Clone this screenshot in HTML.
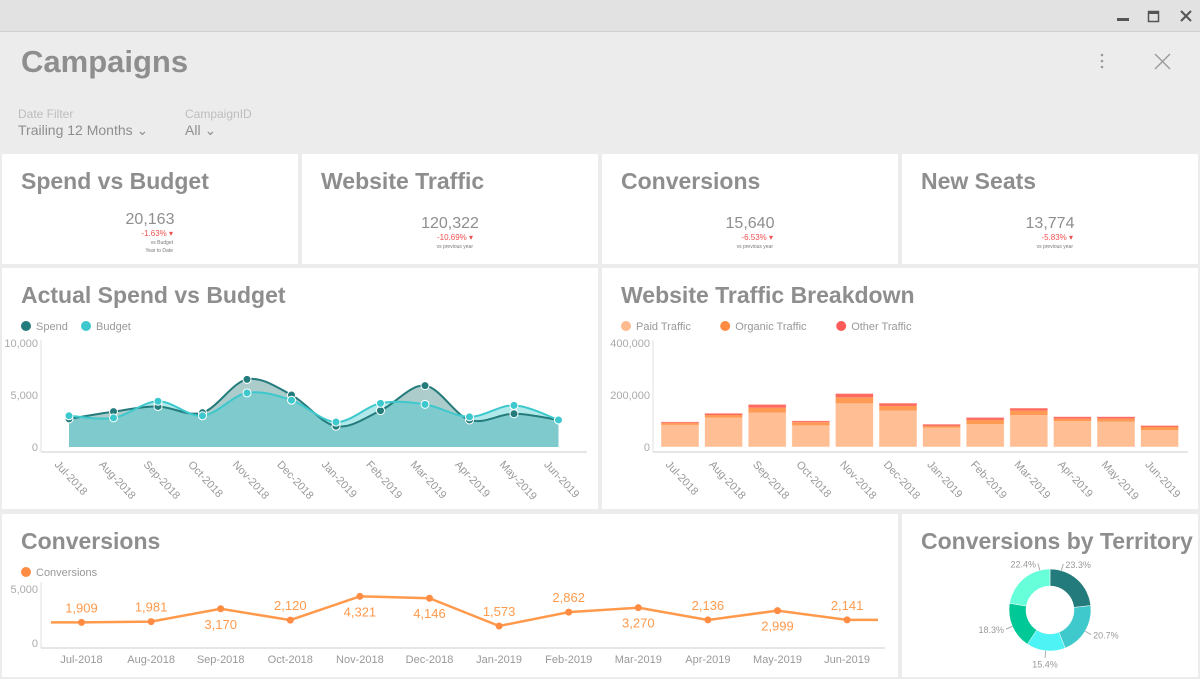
<!DOCTYPE html>
<html><head><meta charset="utf-8"><style>
body{margin:0;width:1200px;height:679px;overflow:hidden;background:#ececec;font-family:"Liberation Sans",sans-serif}
svg{position:absolute;left:0;top:0}
</style></head><body>
<svg id="s" width="1200" height="679" xmlns="http://www.w3.org/2000/svg" font-family="Liberation Sans, sans-serif">
<rect x="0" y="0" width="1200" height="31" fill="#e2e2e2"/>
<line x1="0" y1="31.5" x2="1200" y2="31.5" stroke="#cfcfcf"/>
<rect x="1117" y="18" width="12" height="3" fill="#555"/>
<g><rect x="1148.5" y="11.5" width="10" height="10" fill="none" stroke="#555" stroke-width="1.5"/><rect x="1148" y="11" width="11" height="3" fill="#555"/></g>
<g stroke="#555" stroke-width="2"><line x1="1181" y1="11" x2="1191" y2="21"/><line x1="1191" y1="11" x2="1181" y2="21"/></g>
<text x="21" y="72" font-size="31" font-weight="bold" fill="#8e8e8e">Campaigns</text>
<g fill="#999"><circle cx="1102" cy="55" r="1.3"/><circle cx="1102" cy="61" r="1.3"/><circle cx="1102" cy="67" r="1.3"/></g>
<g stroke="#999" stroke-width="1.3"><line x1="1155" y1="54" x2="1170" y2="69"/><line x1="1170" y1="54" x2="1155" y2="69"/></g>
<text x="18" y="118" font-size="12" fill="#bdbdbd">Date Filter</text>
<text x="18" y="135" font-size="14" fill="#8e8e8e">Trailing 12 Months ⌄</text>
<text x="185" y="118" font-size="12" fill="#bdbdbd">CampaignID</text>
<text x="185" y="135" font-size="14" fill="#8e8e8e">All ⌄</text>
<g id="cards"></g>
<g id="c1"></g><g id="c2"></g><g id="c3"></g><g id="c4"></g>
</svg>
<script>
const NS='http://www.w3.org/2000/svg';
function el(p,t,a,txt){const e=document.createElementNS(NS,t);for(const k in a)e.setAttribute(k,a[k]);if(txt!=null)e.textContent=txt;p.appendChild(e);return e;}
const S=document.getElementById('s');
const cardsG=document.getElementById('cards');
const cardBoxes=[[2,154,296,110,'Spend vs Budget','spend-vs-budget-card'],[302,154,296,110,'Website Traffic','website-traffic-card'],[602,154,296,110,'Conversions','conversions-kpi-card'],[902,154,296,110,'New Seats','new-seats-card'],
[2,268,596,241,'Actual Spend vs Budget','spend-chart-card'],[602,268,596,241,'Website Traffic Breakdown','traffic-chart-card'],[2,514,896,163,'Conversions','conversions-chart-card'],[902,514,296,163,'Conversions by Territory','territory-chart-card']];
cardBoxes.forEach(c=>{const g=el(cardsG,'g',{});


el(g,'rect',{x:c[0],y:c[1],width:c[2],height:c[3],fill:'#fff'});
const t=el(g,'text',{x:c[0]+19,y:c[1]+35,'font-size':23,'font-weight':'bold',fill:'#8e8e8e'},c[4]);

});
const kpis=[[150,224,'20,163','-1.63%','vs Budget','Year to Date'],[450,228,'120,322','-10.69%','vs previous year',''],[750,228,'15,640','-6.53%','vs previous year',''],[1050,228,'13,774','-5.83%','vs previous year','']];
kpis.forEach(k=>{const v=el(cardsG,'text',{x:k[0],y:k[1],'font-size':16,fill:'#8e8e8e','text-anchor':'middle'},k[2]);


const d=el(cardsG,'text',{x:k[0]+23,y:k[1]+12,'font-size':8,fill:'#f05050','text-anchor':'end'},k[3]+' ▾');


el(cardsG,'text',{x:k[0]+23,y:k[1]+20,'font-size':5,fill:'#777','text-anchor':'end'},k[4]);
if(k[5])el(cardsG,'text',{x:k[0]+23,y:k[1]+28,'font-size':5,fill:'#777','text-anchor':'end'},k[5]);});

const months=['Jul-2018','Aug-2018','Sep-2018','Oct-2018','Nov-2018','Dec-2018','Jan-2019','Feb-2019','Mar-2019','Apr-2019','May-2019','Jun-2019'];
const spend=[2700,3400,3900,3300,6500,5000,2000,3500,5900,2600,3200,2600];
const budget=[3000,2800,4400,3000,5200,4500,2400,4200,4100,2900,4000,2600];
const paid=[85000,113000,132000,83000,168000,140000,74000,88000,123000,100000,98000,65000];
const organic=[7000,10000,19000,12000,23000,18000,7000,16000,17000,9000,11000,12000];
const other=[5000,7000,13000,6000,15000,11000,7000,10000,10000,8000,8000,6000];
const conv=[1909,1981,3170,2120,4321,4146,1573,2862,3270,2136,2999,2141];
const terrPct=[23.3,20.7,15.4,18.3,22.4];
const terrCol=['#247b7b','#40c9cc','#4df3f5','#00c896','#66ffd9'];
const ticks1=[0,5000,10000], ticks2=[0,200000,400000], ticks3=[0,5000];
const fmt=v=>v.toLocaleString('en-US');

function smooth(pts){let d='M'+pts[0][0]+','+pts[0][1];for(let i=0;i<pts.length-1;i++){const p0=pts[i-1]||pts[i],p1=pts[i],p2=pts[i+1],p3=pts[i+2]||p2;
d+=` C${p1[0]+(p2[0]-p0[0])/6},${p1[1]+(p2[1]-p0[1])/6} ${p2[0]-(p3[0]-p1[0])/6},${p2[1]-(p3[1]-p1[1])/6} ${p2[0]},${p2[1]}`;}return d;}
function legend(g,x,y,items){items.forEach(it=>{const c=el(g,'circle',{cx:x+5,cy:y,r:5,fill:it[1]});


const t=el(g,'text',{x:x+15,y:y+4,'font-size':11,fill:'#999'},it[0]);


x+=15+it[0].length*5.6+17;});}

(function(){const g=document.getElementById('c1');
const X=i=>69+i*44.5, Y=v=>447-v*(104/10000);
legend(g,21,326,[['Spend','#247b7b'],['Budget','#3cc8cc']]);
ticks1.forEach(t=>{const e=el(g,'text',{x:38,y:Y(t)+4,'font-size':11,fill:'#aaa','text-anchor':'end'},fmt(t));});
el(g,'line',{x1:41,y1:340,x2:41,y2:452,stroke:'#e0e0e0'});
el(g,'line',{x1:41,y1:452,x2:587,y2:452,stroke:'#ddd','stroke-width':1.5});
const sp=spend.map((v,i)=>[X(i),Y(v)]), bp=budget.map((v,i)=>[X(i),Y(v)]);
const base=Y(0);
const a1=el(g,'path',{d:smooth(sp)+` L${X(11)},${base} L${X(0)},${base} Z`,fill:'rgba(36,122,122,0.38)'});

const a2=el(g,'path',{d:smooth(bp)+` L${X(11)},${base} L${X(0)},${base} Z`,fill:'rgba(60,200,204,0.4)'});

const l1=el(g,'path',{d:smooth(sp),fill:'none',stroke:'#247b7b','stroke-width':2});

const l2=el(g,'path',{d:smooth(bp),fill:'none',stroke:'#3cc8cc','stroke-width':2});

sp.forEach(p=>{const c=el(g,'circle',{cx:p[0],cy:p[1],r:4,fill:'#247b7b',stroke:'#fff','stroke-width':1});});
bp.forEach(p=>{const c=el(g,'circle',{cx:p[0],cy:p[1],r:4,fill:'#3cc8cc',stroke:'#fff','stroke-width':1});});
months.forEach((m,i)=>{const t=el(g,'text',{x:0,y:0,'font-size':11,fill:'#999',transform:`translate(${X(i)-15},${465}) rotate(47)`},m);});
})();

(function(){const g=document.getElementById('c2');
const X=i=>680+i*43.6, Y=v=>447-v*(52/200000);
legend(g,621,326,[['Paid Traffic','#ffbb8f'],['Organic Traffic','#ff8c42'],['Other Traffic','#ff5a5a']]);
ticks2.forEach(t=>{const e=el(g,'text',{x:650,y:Y(t)+4,'font-size':11,fill:'#aaa','text-anchor':'end'},fmt(t));});
el(g,'line',{x1:653,y1:340,x2:653,y2:452,stroke:'#e0e0e0'});
el(g,'line',{x1:653,y1:452,x2:1188,y2:452,stroke:'#ddd','stroke-width':1.5});
months.forEach((m,i)=>{let acc=0;[[paid,'#ffbe94','paid-bar'],[organic,'#ff9a55','organic-bar'],[other,'#ff6a60','other-bar']].forEach(s=>{const v=s[0][i];
const r=el(g,'rect',{x:X(i)-19,y:Y(acc+v),width:38,height:Y(acc)-Y(acc+v),fill:s[1]});
acc+=v;});
el(g,'rect',{x:X(i)-19,y:Y(acc),width:38,height:Y(0)-Y(acc),fill:'none',stroke:'#fff','stroke-width':0.8,opacity:0.6});
const t=el(g,'text',{x:0,y:0,'font-size':11,fill:'#999',transform:`translate(${X(i)-15},${465}) rotate(47)`},m);});
})();

(function(){const g=document.getElementById('c3');
const X=i=>81.5+i*69.6, Y=v=>643-v*(54/5000);
legend(g,21,572,[['Conversions','#ff8c42']]);
ticks3.forEach(t=>{const e=el(g,'text',{x:38,y:Y(t)+4,'font-size':11,fill:'#aaa','text-anchor':'end'},fmt(t));});
el(g,'line',{x1:41,y1:582,x2:41,y2:648,stroke:'#e0e0e0'});
el(g,'line',{x1:41,y1:648,x2:885,y2:648,stroke:'#ddd','stroke-width':1.5});
const pts=conv.map((v,i)=>[X(i),Y(v)]);
const d='M51,'+pts[0][1]+' '+pts.map(p=>'L'+p[0]+','+p[1]).join(' ')+' L878,'+pts[11][1];
const l=el(g,'path',{d:d,fill:'none',stroke:'#ff9a4d','stroke-width':2.5});

pts.forEach((p,i)=>{const c=el(g,'circle',{cx:p[0],cy:p[1],r:3.5,fill:'#ff8c42'});
const above=[0,1,3,6,7,9,11].includes(i);
const t=el(g,'text',{x:p[0],y:above?p[1]-10:p[1]+20,'font-size':13,fill:'#ff9a4d','text-anchor':'middle'},fmt(conv[i]));
const m=el(g,'text',{x:p[0],y:663,'font-size':11,fill:'#999','text-anchor':'middle'},months[i]);});
})();

(function(){const g=document.getElementById('c4');
const cx=1050,cy=610,R=41,r=24;const tot=terrPct.reduce((a,b)=>a+b,0);let a0=-Math.PI/2;
terrPct.forEach((v,i)=>{const a1=a0+v/tot*2*Math.PI;const lg=(a1-a0)>Math.PI?1:0;
const P=(rad,a)=>[cx+rad*Math.cos(a),cy+rad*Math.sin(a)];
const [x1,y1]=P(R,a0),[x2,y2]=P(R,a1),[x3,y3]=P(r,a1),[x4,y4]=P(r,a0);
const s=el(g,'path',{d:`M${x1},${y1} A${R},${R} 0 ${lg} 1 ${x2},${y2} L${x3},${y3} A${r},${r} 0 ${lg} 0 ${x4},${y4} Z`,fill:terrCol[i],stroke:'#fff','stroke-width':0.5});

const am=(a0+a1)/2+ (i==0?-0.45:i==4?0.45:0);const [lx1,ly1]=P(R,am),[lx2,ly2]=P(R+7,am);
el(g,'line',{x1:lx1,y1:ly1,x2:lx2,y2:ly2,stroke:'#aaa','stroke-width':1});
const right=Math.cos(am)>=0.2, mid=Math.abs(Math.cos(am))<0.2;
const t=el(g,'text',{x:lx2+(mid?0:right?2:-2),y:ly2+(mid?(Math.sin(am)>0?10:-3):4),'font-size':9,fill:'#999','text-anchor':mid?'middle':right?'start':'end'},v.toFixed(1)+'%');

a0=a1;});
})();
</script>
</body></html>
